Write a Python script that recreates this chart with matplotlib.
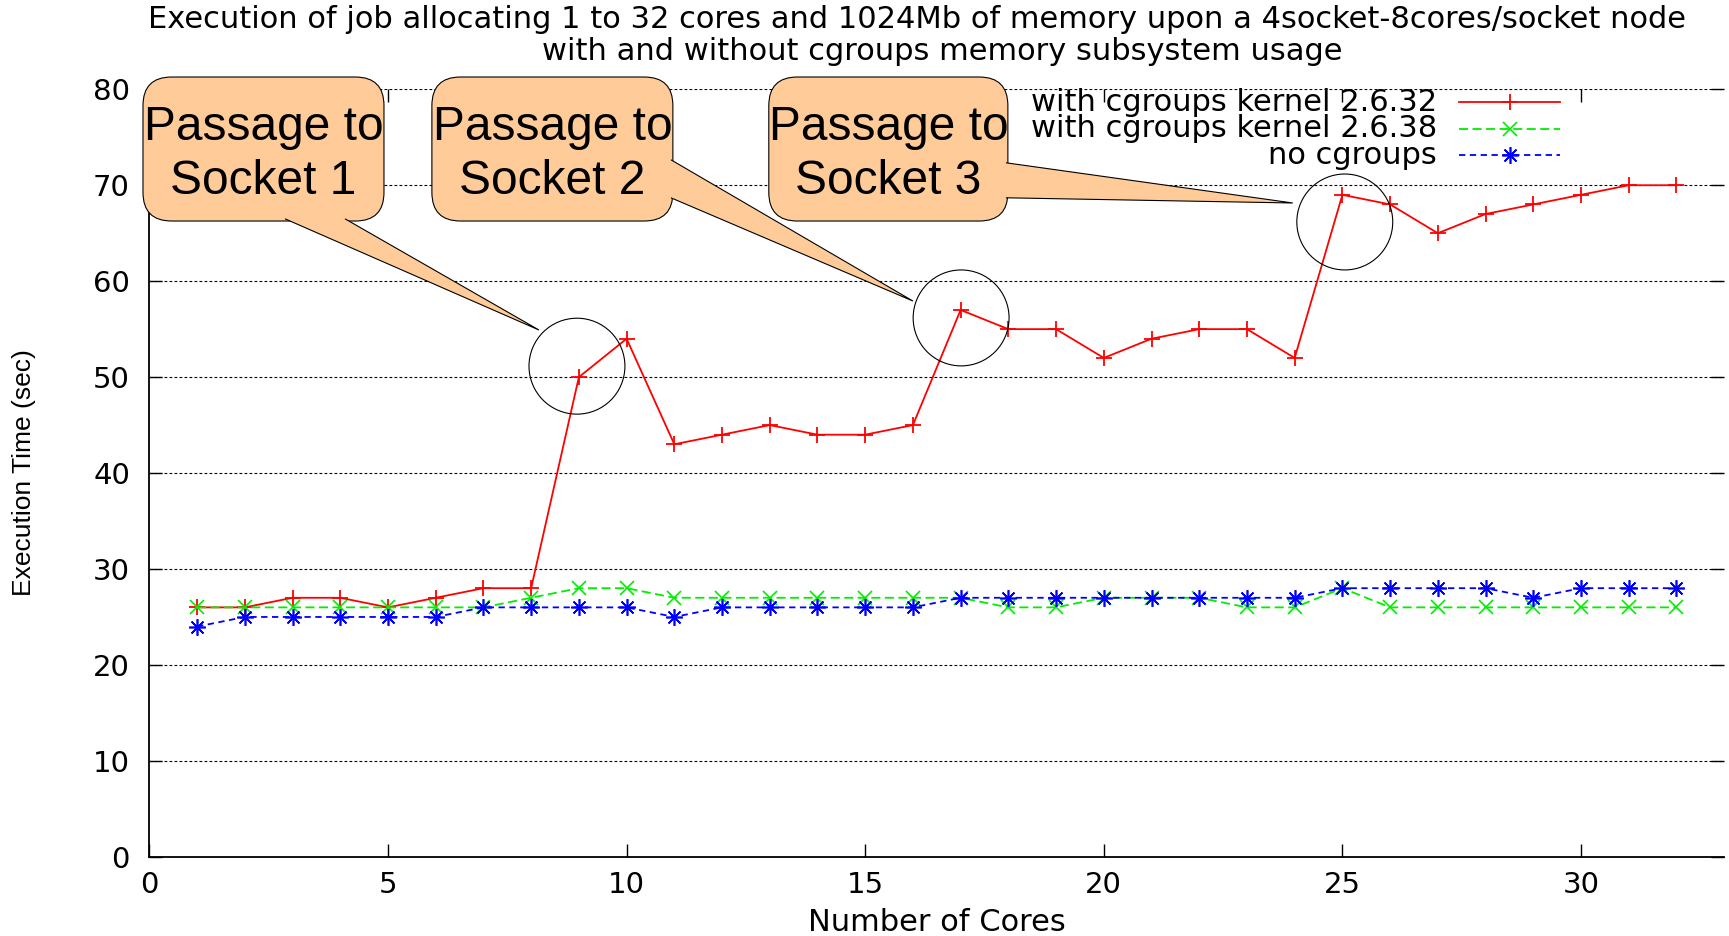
import matplotlib
matplotlib.use('Agg')
import matplotlib.pyplot as plt
from matplotlib.patches import FancyBboxPatch, Polygon, Ellipse

# data (execution time in sec)
cores = list(range(1, 33))
kernel_2632 = [26, 26, 27, 27, 26, 27, 28, 28, 50, 54, 43, 44, 45, 44, 44, 45,
               57, 55, 55, 52, 54, 55, 55, 52, 69, 68, 65, 67, 68, 69, 70, 70]
kernel_2638 = [26, 26, 26, 26, 26, 26, 26, 27, 28, 28, 27, 27, 27, 27, 27, 27,
               27, 26, 26, 27, 27, 27, 26, 26, 28, 26, 26, 26, 26, 26, 26, 26]
no_cgroups = [24, 25, 25, 25, 25, 25, 26, 26, 26, 26, 25, 26, 26, 26, 26, 26,
              27, 27, 27, 27, 27, 27, 27, 27, 28, 28, 28, 28, 27, 28, 28, 28]
labels = ['with cgroups kernel 2.6.32', 'with cgroups kernel 2.6.38', 'no cgroups']
xticks = [0, 5, 10, 15, 20, 25, 30]
yticks = [0, 10, 20, 30, 40, 50, 60, 70, 80]
callout_texts = ['Passage to\nSocket 1', 'Passage to\nSocket 2', 'Passage to\nSocket 3']

title1 = 'Execution of job allocating 1 to 32 cores and 1024Mb of memory upon a 4socket-8cores/socket node'
title2 = 'with and without cgroups memory subsystem usage'

peach = '#ffcc99'

fig = plt.figure(figsize=(17.29, 9.36), dpi=100)
ax = fig.add_axes([0.0864, 0.0846, 0.9108, 0.820])

styles = [
    dict(color='#ff0000', ls='-', marker='+', ms=12, mew=1.3, lw=1.3),
    dict(color='#00ee00', ls=(0, (5, 2.5)), marker='x', ms=10, mew=1.2, lw=1.3),
    dict(color='#0000ff', ls=(0, (3.5, 2.5)), marker=(8, 2, 0), ms=12, mew=1.2, lw=1.3),
]
series = [kernel_2632, kernel_2638, no_cgroups]
for vals, st in zip(series, styles):
    ax.plot(cores, vals, zorder=3, **st)

ax.set_xlim(0, 33)
ax.set_ylim(0, 80)
ax.set_xticks(xticks)
ax.set_yticks(yticks)
ax.yaxis.grid(True, color='k', linestyle=(0, (2.5, 2)), lw=0.8)
ax.set_axisbelow(True)
ax.spines['top'].set_visible(False)
ax.spines['right'].set_visible(False)
ax.spines['left'].set_linewidth(1.3)
ax.spines['bottom'].set_linewidth(1.3)
ax.tick_params(direction='in', length=9.5, width=1, top=True, right=True)
ax.tick_params(axis='y', pad=14, labelsize=21)
ax.tick_params(axis='x', pad=10, labelsize=21)

ax.set_xlabel('Number of Cores', fontsize=22, va='center')
ax.xaxis.set_label_coords(0.5, -0.085)
ax.set_ylabel('Execution Time (sec)', fontsize=19, family='Liberation Sans', va='center')
ax.yaxis.set_label_coords(-0.0796, 0.5)

fig.text(917 / 1729, 1 - 20 / 936, title1, ha='center', va='center', fontsize=22)
fig.text(942 / 1729, 1 - 51 / 936, title2, ha='center', va='center', fontsize=22)

# legend drawn by hand so the labels are right aligned like gnuplot
leg_y = [0.9828, 0.9483, 0.9138]
for lab, st, yy in zip(labels, styles, leg_y):
    ax.text(0.8176, yy, lab, transform=ax.transAxes, ha='right', va='center', fontsize=22)
    ax.plot([0.8316, 0.8957], [yy, yy], transform=ax.transAxes, color=st['color'],
            ls=st['ls'], lw=st['lw'], clip_on=False)
    ax.plot([0.8637], [yy], transform=ax.transAxes, color=st['color'], ls='none',
            marker=st['marker'], ms=st['ms'], mew=st['mew'], clip_on=False)

# callouts: box (x0, x1, y0, y1), wedge base points (just inside the box), tip, circled point
boxes = [(-0.134, 4.916, 66.27, 81.28), (5.92, 10.97, 66.27, 81.28), (12.98, 17.99, 66.27, 81.28)]
bases = [((2.842, 66.5), (4.099, 66.5)), ((10.93, 72.65), (10.93, 68.69)),
         ((17.95, 72.34), (17.95, 68.69))]
tips = [(8.164, 54.91), (16.0, 57.93), (23.96, 68.15)]
circles = [(8.96, 51.14), (17.01, 56.17), (25.05, 66.17)]

aspect = 47.72 / 9.594
for box, base, tip, circ, txt in zip(boxes, bases, tips, circles, callout_texts):
    x0, x1, y0, y1 = box
    ax.add_patch(FancyBboxPatch((x0, y0), x1 - x0, y1 - y0,
                                boxstyle='round,pad=0,rounding_size=0.6', mutation_aspect=aspect,
                                fc=peach, ec='k', lw=0.8, clip_on=False, zorder=5))
    # open path: the two sides get stroked, the base (inside the box) does not
    ax.add_patch(Polygon([base[0], tip, base[1]], closed=False, fc=peach, ec='k', lw=0.8,
                         joinstyle='miter', clip_on=False, zorder=6))
    ax.text((x0 + x1) / 2, 73.2, txt, ha='center', va='center', fontsize=34.5,
            family='Liberation Sans', linespacing=1.28, zorder=8)
    ax.add_patch(Ellipse(circ, 2.01, 10.0, fill=False, ec='k', lw=0.8, zorder=4))

fig.savefig('out.png', dpi=100)
